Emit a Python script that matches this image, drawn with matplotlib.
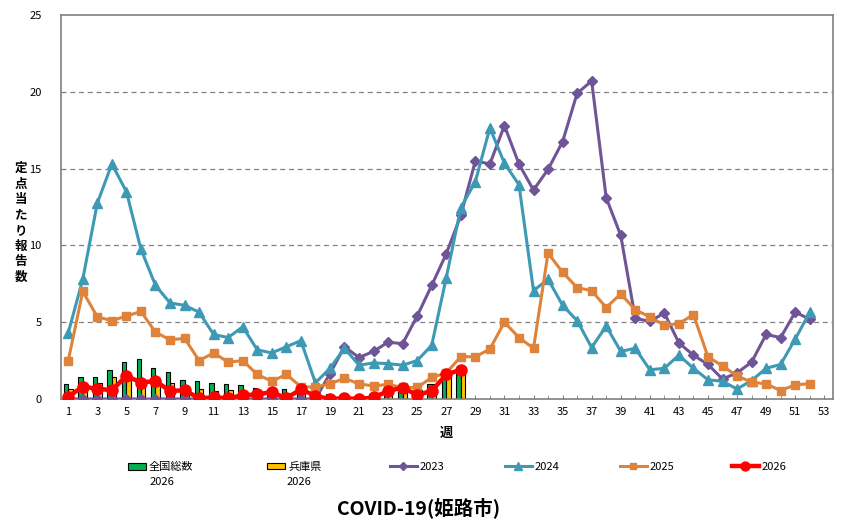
import numpy as np
import matplotlib.pyplot as plt

plt.rcParams['font.family'] = ['Noto Sans CJK JP', 'DejaVu Sans']

# ==========================================================
# DATA : 定点当たり報告数 (COVID-19, 姫路市)
# ==========================================================

weeks = np.arange(1, 53)
bar_weeks = np.arange(1, 29)

zenkoku_2026 = [1.0, 1.45, 1.45, 1.9, 2.4, 2.6, 2.05, 1.75, 1.25, 1.15,
                1.05, 0.95, 0.9, 0.7, 0.6, 0.65, 0.5, 0.35, 0.3, 0.25,
                0.25, 0.3, 0.45, 0.55, 0.7, 1.0, 1.4, 1.75]
hyogo_2026 = [0.65, 0.85, 1.05, 1.4, 1.6, 1.15, 1.2, 1.05, 0.8, 0.65,
              0.55, 0.6, 0.45, 0.45, 0.4, 0.4, 0.35, 0.3, 0.2, 0.2,
              0.2, 0.25, 0.55, 0.65, 0.6, 1.0, 1.55, 2.0]

y2023 = [0, 0, 0, 0, 0, 0, 0, 0, 0, 0,
         0, 0, 0, 0, 0, 0, 0, 0, 1.65, 3.4,
         2.7, 3.1, 3.7, 3.6, 5.4, 7.4, 9.45, 11.95, 15.5, 15.3,
         17.8, 15.3, 13.6, 14.95, 16.75, 19.9, 20.7, 13.1, 10.65, 5.25,
         5.05, 5.6, 3.65, 2.85, 2.25, 1.3, 1.7, 2.4, 4.2, 4.0,
         5.65, 5.2]

y2024 = [4.3, 7.8, 12.75, 15.3, 13.5, 9.75, 7.4, 6.25, 6.1, 5.65,
         4.2, 4.0, 4.7, 3.2, 3.0, 3.4, 3.8, 1.05, 2.0, 3.3,
         2.2, 2.35, 2.3, 2.2, 2.5, 3.5, 7.9, 12.45, 14.15, 17.65,
         15.35, 13.95, 7.05, 7.8, 6.1, 5.1, 3.35, 4.75, 3.1, 3.3,
         1.9, 2.0, 2.85, 2.0, 1.25, 1.15, 0.65, 1.2, 2.0, 2.25,
         3.9, 5.65]

y2025 = [2.5, 7.0, 5.35, 5.1, 5.4, 5.7, 4.35, 3.85, 3.95, 2.5,
         3.0, 2.4, 2.5, 1.6, 1.15, 1.6, 0.8, 0.78, 0.98, 1.35,
         0.98, 0.85, 0.95, 0.75, 0.75, 1.4, 1.7, 2.75, 2.75, 3.25,
         5.0, 4.0, 3.3, 9.5, 8.25, 7.25, 7.05, 5.95, 6.85, 5.8,
         5.35, 4.8, 4.9, 5.5, 2.75, 2.15, 1.5, 1.1, 0.98, 0.55,
         0.92, 1.0]

y2026 = [0.15, 0.8, 0.67, 0.57, 1.5, 1.07, 1.17, 0.52, 0.57, 0.05,
         0.1, 0.05, 0.24, 0.3, 0.45, 0.05, 0.63, 0.2, 0.0, 0.05,
         0.0, 0.1, 0.52, 0.74, 0.26, 0.52, 1.6, 1.9]

x_tick_labels = [str(w) for w in range(1, 54, 2)]

# ==========================================================
# PLOT
# ==========================================================

fig = plt.figure(figsize=(8.41, 5.31), dpi=100)
ax = fig.add_axes([0.0725, 0.2486, 0.918, 0.7232])

bw = 0.3
b1 = ax.bar(bar_weeks - bw / 2, zenkoku_2026, width=bw, color="#00B050",
            edgecolor="black", linewidth=0.8, zorder=2)
b2 = ax.bar(bar_weeks + bw / 2, hyogo_2026, width=bw, color="#FFC000",
            edgecolor="black", linewidth=0.8, zorder=2)

l1, = ax.plot(weeks, y2023, color="#6F5597", linewidth=2.2, marker="D",
              markersize=5, zorder=3)
l2, = ax.plot(weeks, y2024, color="#3E9AB4", linewidth=2.2, marker="^",
              markersize=7, zorder=4)
l3, = ax.plot(weeks, y2025, color="#E0833A", linewidth=2.2, marker="s",
              markersize=6, zorder=5)
l4, = ax.plot(bar_weeks, y2026, color="#FF0000", linewidth=3.2, marker="o",
              markersize=8, zorder=6)

ax.set_xlim(0.5, 53.6)
ax.set_ylim(0, 25)
ax.set_yticks(np.arange(0, 26, 5))
ax.set_xticks(range(1, 54, 2))
ax.set_xticklabels(x_tick_labels)
ax.set_xticks(range(1, 54), minor=True)
ax.tick_params(axis="x", which="both", direction="in", length=3,
               color="#808080", labelsize=8, pad=6)
ax.tick_params(axis="y", length=0, labelsize=8, pad=14)

for y in [5, 10, 15, 20]:
    ax.axhline(y, color="#808080", linestyle=(0, (4, 3)), linewidth=0.9, zorder=1)

for s in ax.spines.values():
    s.set_color("#808080")
    s.set_linewidth(1.2)

fig.text(0.025, 0.58, "\n".join("定点当たり報告数"), ha="center", va="center",
         fontsize=9, fontweight="bold", linespacing=1.25)
fig.text(0.531, 0.184, "週", ha="center", va="center",
         fontsize=9.5, fontweight="bold")

# legend items placed one by one, like the Excel legend
legend_items = [(b1, "全国総数", 119, 1.65), (b2, "兵庫県", 258, 1.65),
                (l1, "2023", 381, 2.4), (l2, "2024", 496, 2.4),
                (l3, "2025", 611, 2.4), (l4, "2026", 723, 2.4)]
for h, lab, xpx, hl in legend_items:
    fig.legend([h], [lab], loc="center left",
               bbox_to_anchor=(xpx / 841, 1 - 467 / 531), frameon=False,
               fontsize=8, handlelength=hl, handleheight=0.55,
               handletextpad=0.25, borderpad=0.3, markerscale=0.8)

fig.text(150 / 841, 1 - 482 / 531, "2026", ha="left", va="center", fontsize=8)
fig.text(287 / 841, 1 - 482 / 531, "2026", ha="left", va="center", fontsize=8)

fig.text(0.498, 0.043, "COVID-19(姫路市)", ha="center", va="center",
         fontsize=14, fontweight="bold")

plt.savefig("out.png", dpi=100)
